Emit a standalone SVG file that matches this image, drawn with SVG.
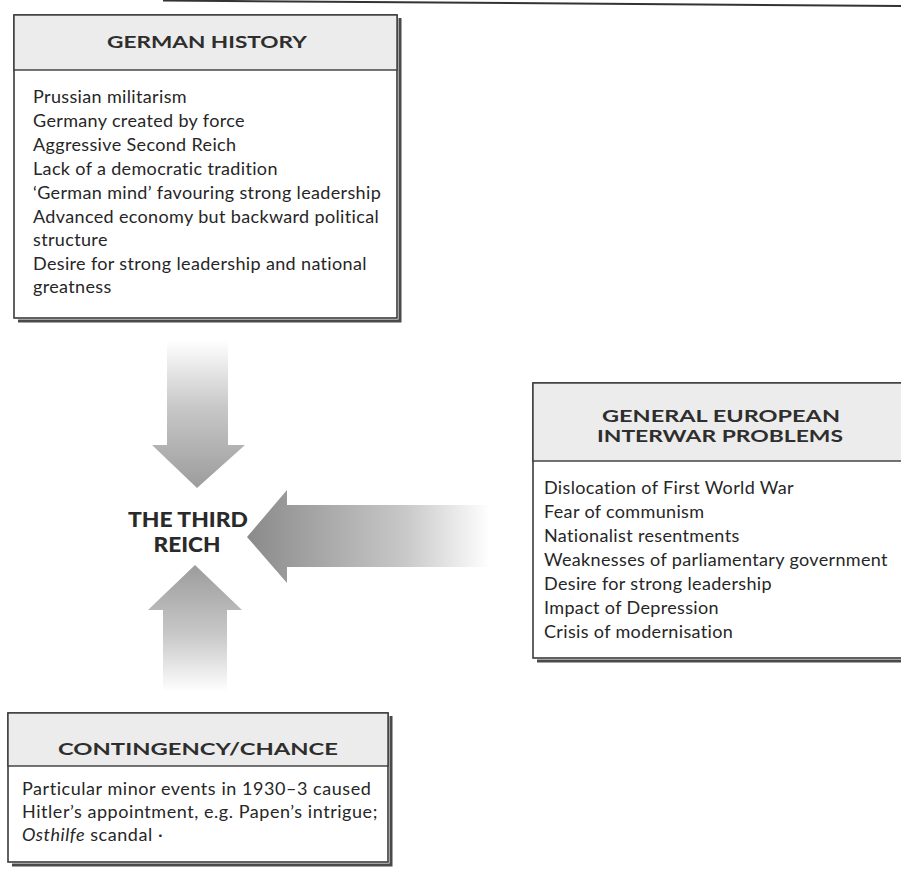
<svg xmlns="http://www.w3.org/2000/svg" width="901" height="873" viewBox="0 0 901 873">
<defs>
<style>
.hd{font-family:"Lato","Liberation Sans",sans-serif;font-weight:bold;font-size:17.5px;fill:#2e2e2e;text-anchor:middle}
.bd{font-family:"Lato","Liberation Sans",sans-serif;font-size:18px;letter-spacing:0.35px;fill:#262626}
.bd2{font-family:"Lato","Liberation Sans",sans-serif;font-size:18px;letter-spacing:0.55px;fill:#262626}
.ttl{font-family:"Lato","Liberation Sans",sans-serif;font-weight:900;font-size:20px;fill:#2a2a2a;text-anchor:middle}
.box{fill:#ffffff;stroke:#3a3a3a;stroke-width:1.6}
.head{fill:#ececec;stroke:#3a3a3a;stroke-width:1.4}
.sh{fill:none;stroke:#4a4a4a;stroke-width:3}
</style>
<linearGradient id="gDown" x1="0" y1="340" x2="0" y2="488" gradientUnits="userSpaceOnUse">
<stop offset="0" stop-color="#ffffff"/>
<stop offset="0.45" stop-color="#c8c8c8"/>
<stop offset="1" stop-color="#9c9c9c"/>
</linearGradient>
<linearGradient id="gUp" x1="0" y1="692" x2="0" y2="565" gradientUnits="userSpaceOnUse">
<stop offset="0" stop-color="#ffffff"/>
<stop offset="0.45" stop-color="#c8c8c8"/>
<stop offset="1" stop-color="#9c9c9c"/>
</linearGradient>
<linearGradient id="gLeft" x1="490" y1="0" x2="247" y2="0" gradientUnits="userSpaceOnUse">
<stop offset="0" stop-color="#ffffff"/>
<stop offset="0.35" stop-color="#c8c8c8"/>
<stop offset="1" stop-color="#8a8a8a"/>
</linearGradient>
</defs>

<line x1="163" y1="0.5" x2="901" y2="6" stroke="#333" stroke-width="2"/>

<g id="connectors">
<polygon points="167,340 228,340 228,445 245,445 197,488 152,445 167,445" fill="url(#gDown)"/>
<polygon points="490,505 287,505 287,490 247,537 287,583 287,567 490,567" fill="url(#gLeft)"/>
<polygon points="163,692 227,692 227,610 242,610 195,565 148,610 163,610" fill="url(#gUp)"/>
</g>

<g id="german-history">
<path class="sh" d="M400,18 V321 H18"/>
<rect class="box" x="14" y="15" width="383" height="303"/>
<rect class="head" x="14" y="15" width="383" height="55"/>
<text class="hd" x="207" y="48" textLength="200" lengthAdjust="spacingAndGlyphs">GERMAN HISTORY</text>
<text class="bd" x="33" y="103">Prussian militarism</text>
<text class="bd" x="33" y="127">Germany created by force</text>
<text class="bd" x="33" y="151">Aggressive Second Reich</text>
<text class="bd" x="33" y="175">Lack of a democratic tradition</text>
<text class="bd" x="33" y="199">‘German mind’ favouring strong leadership</text>
<text class="bd" x="33" y="223">Advanced economy but backward political</text>
<text class="bd" x="33" y="246">structure</text>
<text class="bd" x="33" y="270">Desire for strong leadership and national</text>
<text class="bd" x="33" y="293">greatness</text>
</g>

<g id="third-reich">
<text class="ttl" x="188" y="527" textLength="120" lengthAdjust="spacingAndGlyphs">THE THIRD</text>
<text class="ttl" x="187" y="552" textLength="67" lengthAdjust="spacingAndGlyphs">REICH</text>
</g>

<g id="european-problems">
<path class="sh" d="M537,661 H901"/>
<rect class="box" x="533" y="383" width="380" height="275"/>
<rect class="head" x="533" y="383" width="380" height="78"/>
<text class="hd" x="721" y="422" textLength="238" lengthAdjust="spacingAndGlyphs">GENERAL EUROPEAN</text>
<text class="hd" x="720" y="442" textLength="246" lengthAdjust="spacingAndGlyphs">INTERWAR PROBLEMS</text>
<text class="bd" x="544" y="494">Dislocation of First World War</text>
<text class="bd" x="544" y="518">Fear of communism</text>
<text class="bd" x="544" y="542">Nationalist resentments</text>
<text class="bd" x="544" y="566">Weaknesses of parliamentary government</text>
<text class="bd" x="544" y="590">Desire for strong leadership</text>
<text class="bd" x="544" y="614">Impact of Depression</text>
<text class="bd" x="544" y="638">Crisis of modernisation</text>
</g>

<g id="contingency">
<path class="sh" d="M391,716 V865 H12"/>
<rect class="box" x="8" y="713" width="380" height="149"/>
<rect class="head" x="8" y="713" width="380" height="53"/>
<text class="hd" x="198" y="755" textLength="280" lengthAdjust="spacingAndGlyphs">CONTINGENCY/CHANCE</text>
<text class="bd2" x="22" y="795">Particular minor events in 1930–3 caused</text>
<text class="bd2" x="22" y="818">Hitler’s appointment, e.g. Papen’s intrigue;</text>
<text class="bd2" x="22" y="841"><tspan font-style="italic">Osthilfe</tspan> scandal ·</text>
</g>
</svg>
